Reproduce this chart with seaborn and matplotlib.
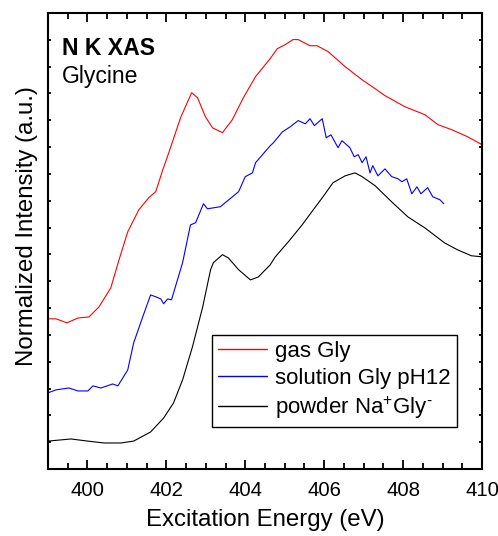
import matplotlib
matplotlib.use("Agg")
import matplotlib.pyplot as plt
import seaborn as sns
import pandas as pd
from matplotlib.ticker import MultipleLocator

# ---- data ----
gas_energy = [399.0, 399.20, 399.48, 399.76, 400.04, 400.29, 400.59, 400.80, 401.02, 401.30,
              401.55, 401.73, 401.91, 402.06, 402.36, 402.64, 402.79, 402.99, 403.17, 403.42,
              403.67, 403.95, 404.26, 404.63, 404.81, 405.01, 405.21, 405.34, 405.64, 405.82,
              406.10, 406.53, 406.96, 407.29, 407.54, 408.04, 408.55, 408.88, 409.23, 409.63, 410.0]
gas_intensity = [5.60, 5.60, 5.45, 5.63, 5.67, 6.04, 6.75, 7.80, 8.84, 9.66,
                 10.11, 10.34, 11.16, 11.79, 13.10, 14.03, 13.84, 13.13, 12.72, 12.54,
                 13.02, 13.84, 14.63, 15.30, 15.67, 15.82, 16.01, 16.01, 15.78, 15.78,
                 15.56, 15.00, 14.51, 14.18, 13.92, 13.51, 13.21, 12.84, 12.65, 12.39, 12.09]

sol_energy = [399.0, 399.20, 399.53, 399.76, 400.01, 400.14, 400.34, 400.64, 400.77, 401.02,
              401.17, 401.40, 401.60, 401.73, 401.86, 401.93, 402.03, 402.13, 402.41, 402.61,
              402.74, 402.94, 403.04, 403.37, 403.83, 404.00, 404.18, 404.26, 404.63, 404.71,
              404.94, 405.14, 405.34, 405.52, 405.64, 405.75, 405.95, 406.05, 406.17, 406.35,
              406.45, 406.65, 406.76, 406.86, 406.96, 407.06, 407.16, 407.23, 407.36, 407.54,
              407.71, 407.87, 407.97, 408.09, 408.22, 408.35, 408.45, 408.62, 408.75, 408.93, 409.03]
sol_intensity = [2.84, 2.95, 3.02, 2.91, 2.91, 3.10, 3.02, 3.17, 3.10, 3.69,
                 4.70, 5.67, 6.49, 6.42, 6.34, 6.16, 6.34, 6.31, 7.69, 9.10,
                 9.18, 9.89, 9.70, 9.78, 10.34, 10.90, 11.04, 11.42, 12.05, 12.16,
                 12.57, 12.76, 12.99, 12.87, 13.06, 12.80, 13.06, 12.35, 12.46, 11.98,
                 12.24, 11.98, 11.64, 11.72, 11.42, 11.64, 11.04, 11.31, 10.93, 11.19,
                 10.90, 10.82, 10.71, 10.82, 10.26, 10.52, 10.26, 10.49, 10.15, 10.04, 9.89]

pow_energy = [399.0, 399.58, 400.01, 400.42, 400.85, 401.17, 401.60, 401.93, 402.18, 402.41,
              402.66, 402.92, 403.12, 403.19, 403.42, 403.57, 403.83, 404.13, 404.33, 404.63,
              404.76, 405.09, 405.44, 405.72, 405.97, 406.22, 406.53, 406.78, 406.96, 407.29,
              407.71, 408.12, 408.55, 409.05, 409.38, 409.73, 410.0]
pow_intensity = [1.04, 1.12, 1.04, 0.97, 0.97, 1.04, 1.38, 1.90, 2.46, 3.32,
                 4.55, 6.04, 7.43, 7.69, 7.99, 7.87, 7.43, 7.05, 7.16, 7.61,
                 7.91, 8.47, 9.10, 9.66, 10.15, 10.67, 10.93, 11.04, 10.90, 10.56,
                 9.96, 9.40, 8.99, 8.43, 8.17, 7.95, 7.91]

labels = ["gas Gly", "solution Gly pH12", r"powder Na$^{+}$Gly$^{\text{-}}$"]
colors = ["#ff0000", "#0000ff", "#000000"]
x_ticks = [400, 402, 404, 406, 408, 410]

sns.set_style("ticks")
plt.rcParams["font.family"] = ["Liberation Sans", "DejaVu Sans"]
plt.rcParams["mathtext.fontset"] = "custom"
plt.rcParams["mathtext.rm"] = "Liberation Sans"
plt.rcParams["mathtext.it"] = "Liberation Sans:italic"
plt.rcParams["mathtext.bf"] = "Liberation Sans:bold"
plt.rcParams["text.color"] = "black"
plt.rcParams["axes.labelcolor"] = "black"
plt.rcParams["xtick.color"] = "black"
plt.rcParams["ytick.color"] = "black"

fig = plt.figure(figsize=(4.98, 5.36), dpi=100)
ax = fig.add_axes([0.0964, 0.125, 0.8716, 0.8507])

series = [(gas_energy, gas_intensity), (sol_energy, sol_intensity), (pow_energy, pow_intensity)]
for (xe, yi), lab, c in zip(series, labels, colors):
    df = pd.DataFrame({"energy": xe, "intensity": yi})
    sns.lineplot(data=df, x="energy", y="intensity", color=c, linewidth=0.8,
                 label=lab, ax=ax, sort=False, estimator=None)

ax.set_xlim(399, 410)
ax.set_ylim(0, 17)
ax.set_xticks(x_ticks)
ax.xaxis.set_minor_locator(MultipleLocator(0.5))
ax.yaxis.set_major_locator(MultipleLocator(1))
ax.set_yticklabels([])
ax.tick_params(axis="x", which="major", direction="in", length=6.5, width=1.3,
               top=True, labelsize=14.7, pad=9)
ax.tick_params(axis="x", which="minor", direction="in", length=4, width=1.3, top=True)
ax.tick_params(axis="y", which="major", direction="in", length=2.5, width=1.3,
               right=True, left=True)
for s in ax.spines.values():
    s.set_linewidth(1.5)
    s.set_color("black")

ax.set_xlabel("Excitation Energy (eV)", fontsize=17.3, labelpad=6)
ax.set_ylabel("Normalized Intensity (a.u.)", fontsize=17.3)
ax.yaxis.set_label_coords(-0.023, 0.532)

ax.text(0.033, 0.908, "N K XAS", transform=ax.transAxes, fontsize=16.6,
        fontweight="bold", va="baseline", ha="left")
ax.text(0.033, 0.846, "Glycine", transform=ax.transAxes, fontsize=16.6,
        va="baseline", ha="left")

leg = ax.legend(loc="lower left", bbox_to_anchor=(0.378, 0.092), borderaxespad=0,
                fontsize=16, frameon=True, fancybox=False, edgecolor="black",
                handlelength=2.2, handletextpad=0.36, labelspacing=0.25,
                borderpad=0.28)
leg.get_frame().set_linewidth(1.0)
leg.get_frame().set_alpha(1.0)
for h in leg.get_lines():
    h.set_linewidth(1.0)

fig.savefig("out.png", dpi=100)
